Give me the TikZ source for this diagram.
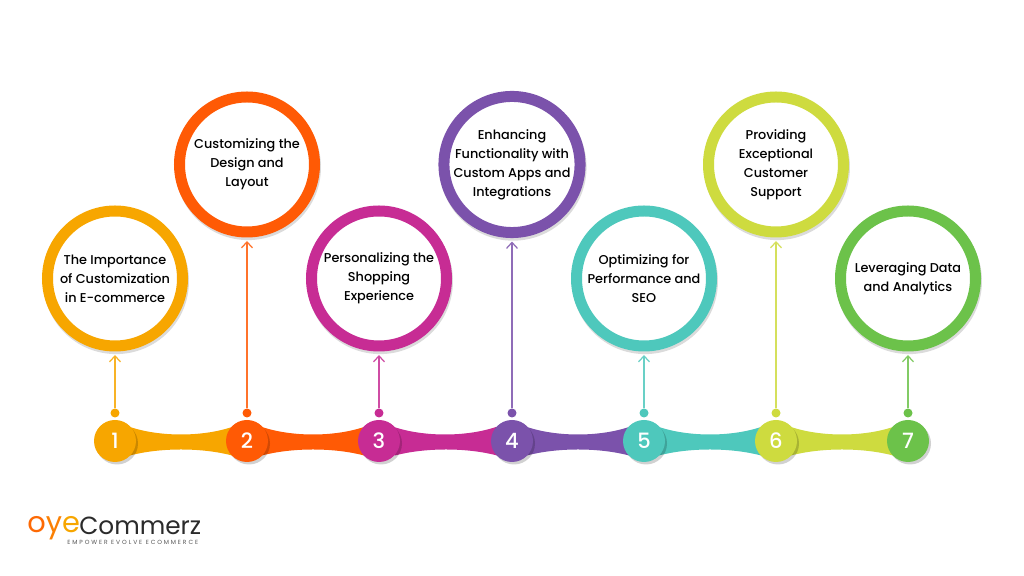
\documentclass[tikz,border=0pt]{standalone}
\usepackage{fontspec}
\setmainfont{Poppins}[UprightFont={* Medium}]
\newfontfamily\logofont{Poppins}
\newfontfamily\tagfont[LetterSpace=32]{Poppins}
\usetikzlibrary{arrows.meta,shadows}
\definecolor{amber}{HTML}{F7A600}
\definecolor{flame}{HTML}{FF5A05}
\definecolor{magenta}{HTML}{C72C94}
\definecolor{violet}{HTML}{7B52AB}
\definecolor{teal}{HTML}{4EC8BC}
\definecolor{lime}{HTML}{CEDB3F}
\definecolor{leaf}{HTML}{6CC24A}
\definecolor{ink}{HTML}{2B2B2B}
% waist between two neighbouring numbers
\newcommand{\band}[3]{\fill[#3] (#1) -- ++(0.3,0.28) .. controls +(0.6,-0.2) and +(-0.6,-0.2) .. +(2.04,0) -- (#2) -- ++(-0.3,-0.29) .. controls +(-0.6,0.16) and +(0.6,0.16) .. +(-2.04,0) -- cycle;}
\begin{document}
\begin{tikzpicture}[
  every node/.style={font=\fontsize{7.3}{10.8}\selectfont, text=black},
  topic/.style={circle, draw=#1, fill=white, line width=0.22cm, minimum size=2.7cm, inner sep=0pt, align=center,
    drop shadow={shadow xshift=0.02cm, shadow yshift=-0.05cm, shadow scale=1.08, fill=black, opacity=0.14}},
  number/.style={circle, fill=#1, minimum size=0.84cm, inner sep=0pt, text=white, font=\fontsize{12}{14}\selectfont,
    drop shadow={shadow xshift=0.04cm, shadow yshift=-0.05cm, fill=black, opacity=0.18}},
  pin/.style={circle, fill=#1, minimum size=0.18cm, inner sep=0pt},
  link/.style={draw=#1!85!white, line width=0.7pt, shorten >=0.07cm, -{Straight Barb[length=1.2mm,width=2.2mm]}}
]
\useasboundingbox (0,0) rectangle (20.48,11.52);
\fill[white] (0,0) rectangle (20.48,11.52);
% centres of the numbers
\coordinate (p1) at (2.30,2.70);
\coordinate (p2) at (4.94,2.70);
\coordinate (p3) at (7.58,2.70);
\coordinate (p4) at (10.24,2.70);
\coordinate (p5) at (12.88,2.70);
\coordinate (p6) at (15.52,2.70);
\coordinate (p7) at (18.16,2.70);
% band
\band{p1}{p2}{amber}
\band{p2}{p3}{flame}
\band{p3}{p4}{magenta}
\band{p4}{p5}{violet}
\band{p5}{p6}{teal}
\band{p6}{p7}{lime}
% numbers
\node[number=amber] (n1) at (p1) {1};
\node[number=flame] (n2) at (p2) {2};
\node[number=magenta] (n3) at (p3) {3};
\node[number=violet] (n4) at (p4) {4};
\node[number=teal] (n5) at (p5) {5};
\node[number=lime] (n6) at (p6) {6};
\node[number=leaf] (n7) at (p7) {7};
% pins above the numbers
\node[pin=amber] (d1) at (2.30,3.26) {};
\node[pin=flame] (d2) at (4.94,3.26) {};
\node[pin=magenta] (d3) at (7.58,3.26) {};
\node[pin=violet] (d4) at (10.24,3.26) {};
\node[pin=teal] (d5) at (12.88,3.26) {};
\node[pin=lime] (d6) at (15.52,3.26) {};
\node[pin=leaf] (d7) at (18.16,3.26) {};
% topics
\node[topic=amber] (c1) at (2.30,5.95) {The Importance\\of Customization\\in E-commerce};
\node[topic=flame] (c2) at (4.94,8.23) {Customizing the\\Design and\\Layout};
\node[topic=magenta] (c3) at (7.58,5.95) {Personalizing the\\Shopping\\Experience};
\node[topic=violet] (c4) at (10.24,8.23) {Enhancing\\Functionality with\\Custom Apps and\\Integrations};
\node[topic=teal] (c5) at (12.88,5.95) {Optimizing for\\Performance and\\SEO};
\node[topic=lime] (c6) at (15.52,8.23) {Providing\\Exceptional\\Customer\\Support};
\node[topic=leaf] (c7) at (18.16,5.95) {Leveraging Data\\and Analytics};
% arrows
\draw[link=amber] (d1) -- (c1);
\draw[link=flame] (d2) -- (c2);
\draw[link=magenta] (d3) -- (c3);
\draw[link=violet] (d4) -- (c4);
\draw[link=teal] (d5) -- (c5);
\draw[link=lime] (d6) -- (c6);
\draw[link=leaf] (d7) -- (c7);
% logo
\node[anchor=base west, inner sep=0pt, font=\logofont\fontsize{16.4}{20}\selectfont] (oye) at (0.54,0.86) {\textcolor{flame!80!amber}{o}\textcolor{flame!50!amber}{y}\textcolor{amber}{e}};
\node[anchor=base west, inner sep=0pt, text=ink, font=\logofont\fontsize{14.1}{15}\selectfont] (brand) at (1.58,0.82) {Commerz};
\node[anchor=base west, inner sep=0pt, text=ink!80, font=\tagfont\fontsize{3.4}{4}\selectfont] (motto) at (1.34,0.62) {EMPOWER EVOLVE ECOMMERCE};
\end{tikzpicture}
\end{document}
